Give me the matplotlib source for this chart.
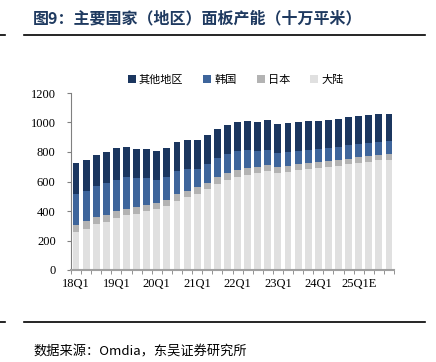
import numpy as np
import matplotlib
matplotlib.use("Agg")
import matplotlib.pyplot as plt
from matplotlib.lines import Line2D

plt.rcParams['font.family'] = ['Noto Sans CJK SC', 'DejaVu Sans']

quarters = [f"{y}Q{q}" for y in range(18, 26) for q in range(1, 5)]
labels = ["18Q1", "19Q1", "20Q1", "21Q1", "22Q1", "23Q1", "24Q1", "25Q1E"]

mainland = [257, 280, 309, 325, 354, 370, 383, 399, 413, 433, 469, 492, 514, 548, 582, 613,
            631, 647, 658, 670, 658, 665, 676, 683, 692, 699, 708, 717, 726, 735, 744, 749]
japan = [47, 49, 50, 49, 45, 43, 45, 43, 43, 41, 43, 42, 47, 45, 47, 43,
         45, 45, 43, 45, 41, 39, 41, 41, 39, 38, 38, 38, 38, 38, 34, 38]
korea = [210, 208, 209, 215, 214, 216, 197, 185, 153, 155, 158, 149, 125, 124, 131, 131,
         129, 120, 104, 99, 95, 94, 88, 88, 88, 88, 91, 91, 88, 88, 90, 88]
other = [210, 209, 210, 214, 212, 208, 198, 196, 198, 201, 198, 199, 198, 201, 198, 198,
         198, 198, 198, 201, 198, 201, 198, 200, 193, 194, 189, 189, 192, 192, 190, 183]

c_other = "#1b365f"
c_korea = "#3e659b"
c_japan = "#b3b3b3"
c_main = "#e0e0e0"

fig = plt.figure(figsize=(4.36, 3.62), dpi=100)
ax = fig.add_axes([71/436, 1-270/362, 323/436, 177/362])

x = np.arange(len(quarters))
w = 0.68
b1 = np.array(mainland)
b2 = b1 + np.array(japan)
b3 = b2 + np.array(korea)
ax.bar(x, mainland, w, color=c_main, label="大陆")
ax.bar(x, japan, w, bottom=b1, color=c_japan, label="日本")
ax.bar(x, korea, w, bottom=b2, color=c_korea, label="韩国")
ax.bar(x, other, w, bottom=b3, color=c_other, label="其他地区")

ax.set_xlim(-0.45, 31.47)
ax.set_ylim(0, 1200)
ax.set_yticks(range(0, 1201, 200))
ax.set_xticks(x[::4])
ax.set_xticklabels(labels, family="Liberation Serif", fontsize=9)
ax.set_xticks(np.arange(-0.5, 32, 1), minor=True)
ax.tick_params(axis="x", which="major", length=0, pad=6)
ax.tick_params(axis="x", which="minor", length=3, color="#808080", direction="out")
ax.tick_params(axis="y", length=3, color="#808080", pad=8)
for t in ax.get_yticklabels():
    t.set_family("Liberation Serif")
    t.set_fontsize(9)
for s in ["top", "right"]:
    ax.spines[s].set_visible(False)
ax.spines["left"].set_color("#808080")
ax.spines["left"].set_linewidth(0.8)
ax.spines["bottom"].set_color("#a0a0a0")
ax.spines["bottom"].set_linewidth(1.5)

h, l = ax.get_legend_handles_labels()
ax.legend(h[::-1], l[::-1], ncol=4, frameon=False, loc="center",
          bbox_to_anchor=(0.51, 1 + 13/177), fontsize=8,
          handlelength=0.7, handleheight=0.7, handletextpad=0.3, columnspacing=1.8)

fig.text(33/436, 1-18/362, "图9：主要国家（地区）面板产能（十万平米）", fontsize=11.5,
         fontweight="bold", color="#1f3a60", va="center")
fig.text(33/436, 1-352/362, "数据来源：Omdia，东吴证券研究所", fontsize=9.5, va="center")

for yy in [1-35/362, 1-322/362]:
    fig.add_artist(Line2D([24/436, 425/436], [yy, yy], color="black", lw=1.2))
    fig.add_artist(Line2D([0, 5/436], [yy, yy], color="black", lw=1.2))

fig.savefig("out.png", dpi=100)
